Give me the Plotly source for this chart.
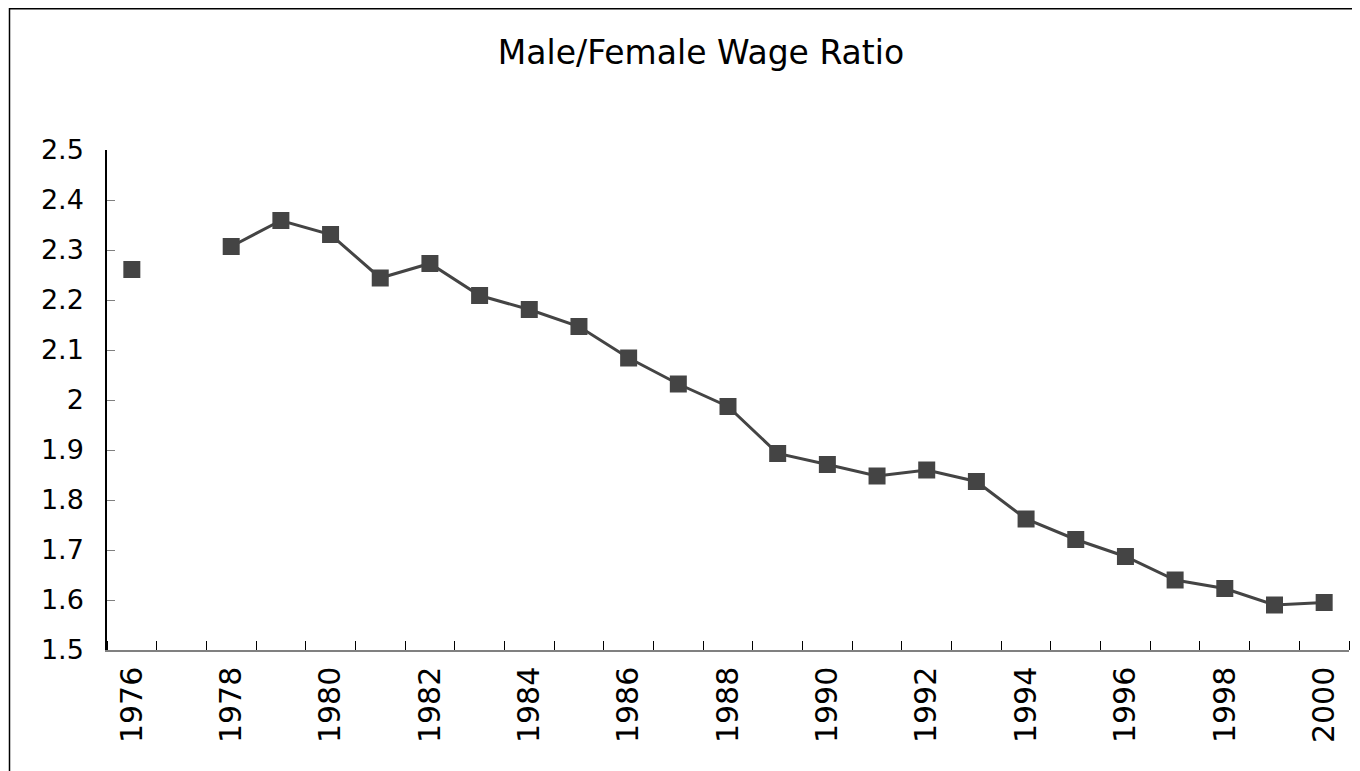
import plotly.graph_objects as go

years = list(range(1976, 2001))
ratio = [2.261, None, 2.307, 2.359, 2.331, 2.244, 2.273, 2.209, 2.181, 2.147,
         2.084, 2.032, 1.987, 1.893, 1.871, 1.848, 1.860, 1.837, 1.762, 1.721,
         1.687, 1.640, 1.623, 1.590, 1.595]
label_years = list(range(1976, 2001, 2))
y_ticks = [1.5, 1.6, 1.7, 1.8, 1.9, 2.0, 2.1, 2.2, 2.3, 2.4, 2.5]
y_labels = ["1.5", "1.6", "1.7", "1.8", "1.9", "2", "2.1", "2.2", "2.3", "2.4", "2.5"]

FONT = "DejaVu Sans, sans-serif"
COL = "#444444"
W, H = 1352, 763

fig = go.Figure()
fig.add_trace(go.Scatter(
    x=years, y=ratio, mode="lines+markers", connectgaps=False,
    line=dict(color=COL, width=3),
    marker=dict(symbol="square", size=17, color=COL, line=dict(width=0)),
    showlegend=False,
))

fig.update_layout(
    width=W, height=H,
    margin=dict(l=99, r=11, t=142, b=121, autoexpand=False),
    paper_bgcolor="white", plot_bgcolor="white",
    font=dict(family=FONT, size=28, color="black"),
    title=dict(text="Male/Female Wage Ratio", x=693 / W, xanchor="center",
               y=1 - 44.5 / H, yanchor="middle", font=dict(size=33, family=FONT)),
    xaxis=dict(range=[1975.5, 2000.5], tickmode="array", tickvals=label_years,
               ticktext=[str(v) for v in label_years], tickangle=-90,
               tickfont=dict(size=30),
               ticks="", showgrid=False, zeroline=False, automargin=False,
               showline=True, linecolor="#808080", linewidth=1.5,
               ticklabelstandoff=3,
               minor=dict(ticks="inside", tick0=1975.5, dtick=1, ticklen=9,
                          tickcolor="black", tickwidth=1, showgrid=False)),
    yaxis=dict(range=[1.5, 2.5], tickmode="array", tickvals=y_ticks, ticktext=y_labels,
               tickfont=dict(size=27),
               ticks="inside", ticklen=8, tickcolor="#808080", tickwidth=1,
               showgrid=False, zeroline=False, showline=True, linecolor="black",
               linewidth=1.5, ticklabelstandoff=16, automargin=False),
    shapes=[dict(type="rect", xref="paper", yref="paper",
                 x0=(1.5 - 99) / 1242, x1=1.1, y0=-0.5, y1=(642 - 0.75) / 500,
                 line=dict(color="black", width=1.5), fillcolor="rgba(0,0,0,0)",
                 layer="below")],
)

fig.write_html("out.html")
